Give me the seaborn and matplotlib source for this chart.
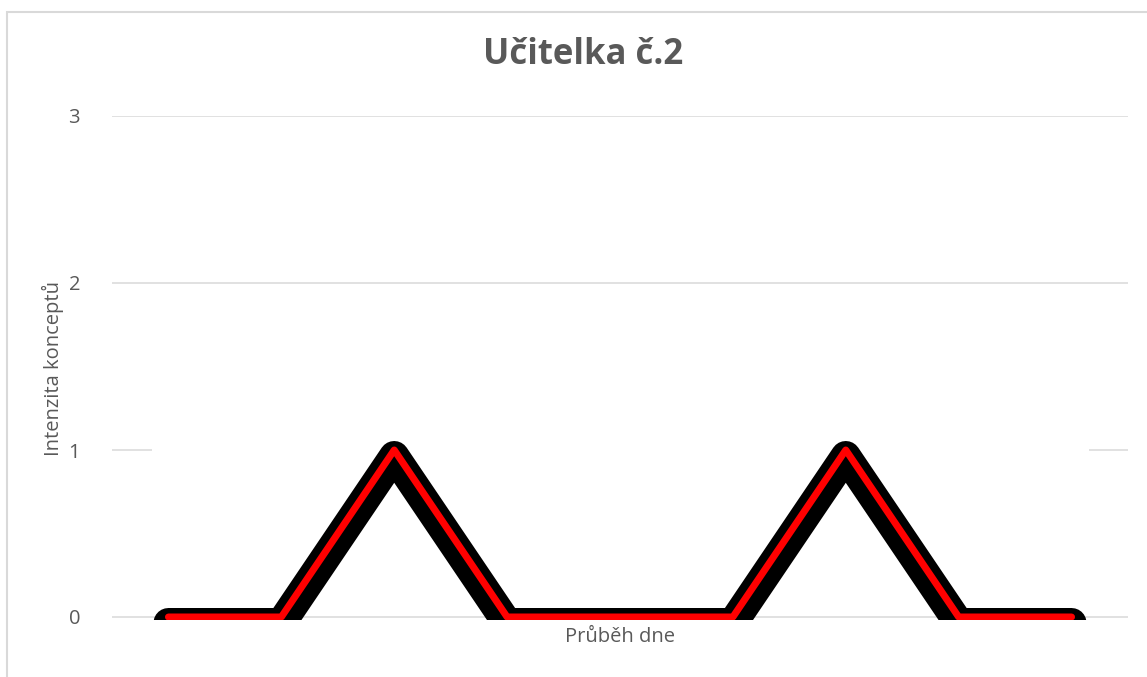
import numpy as np
import pandas as pd
import matplotlib
matplotlib.use("Agg")
import matplotlib.pyplot as plt
import matplotlib.transforms as mtransforms
import seaborn as sns

# ---- data ----
time_points = list(range(9))
intensity = [0, 0, 1, 0, 0, 0, 1, 0, 0]
hidden_series = [1, 1, 1, 1, 1, 1, 1, 1, 1]
y_ticks = [0, 1, 2, 3]
title = "Učitelka č.2"
x_label = "Průběh dne"
y_label = "Intenzita konceptů"

sns.set_theme(style="white")
plt.rcParams['font.family'] = ['Open Sans', 'DejaVu Sans']

TXT = "#595959"
GRID = "#d9d9d9"
DPI = 100
W, H = 1147, 677

fig = plt.figure(figsize=(W / DPI, H / DPI), dpi=DPI)
ax = fig.add_axes([112 / W, (H - 620) / H, (1128 - 112) / W, (620 - 116) / H])

df = pd.DataFrame({"t": time_points, "v": intensity, "h": hidden_series})

# hidden white series (covers gridline at 1)
sns.lineplot(data=df, x="t", y="h", ax=ax, color="white", linewidth=33 * 72 / DPI,
             solid_capstyle="projecting", zorder=2)
# shadow
sns.lineplot(data=df, x="t", y="v", ax=ax, color="black", linewidth=30 * 72 / DPI,
             solid_capstyle="round", solid_joinstyle="round", zorder=3)
# main red line
sns.lineplot(data=df, x="t", y="v", ax=ax, color="#ff0000", linewidth=7 * 72 / DPI,
             solid_capstyle="round", solid_joinstyle="round", zorder=4)

shadow = ax.lines[1]
shadow.set_transform(shadow.get_transform() +
                     mtransforms.ScaledTranslation(0, -6 / DPI, fig.dpi_scale_trans))

ax.set_xlim(-0.5, len(time_points) - 0.5)
ax.set_ylim(-3 / 167, 3)
ax.set_yticks(y_ticks)
ax.set_yticklabels([str(t) for t in y_ticks])
ax.set_xticks([])
ax.tick_params(axis="y", length=0, pad=23, labelsize=14.5, labelcolor=TXT)
ax.yaxis.grid(True, color=GRID, linewidth=1.1, zorder=0)
ax.set_axisbelow(True)
for s in ax.spines.values():
    s.set_visible(False)

ax.set_xlabel(x_label, fontsize=14.5, color=TXT, labelpad=5)
ax.set_ylabel(y_label, fontsize=14.5, color=TXT)
ax.yaxis.set_label_coords((64 - 112) / 1016, 0.5)
fig.text(583 / W, 1 - 55 / H, title, ha="center", va="center",
         fontsize=25, fontweight="bold", color=TXT)

# chart border
border = plt.Rectangle((7 / W, -0.05), 1.2, 1 - 12 / H + 0.05, transform=fig.transFigure,
                       fill=False, edgecolor=GRID, linewidth=1.5)
fig.patches.append(border)

fig.savefig("out.png", dpi=DPI)
